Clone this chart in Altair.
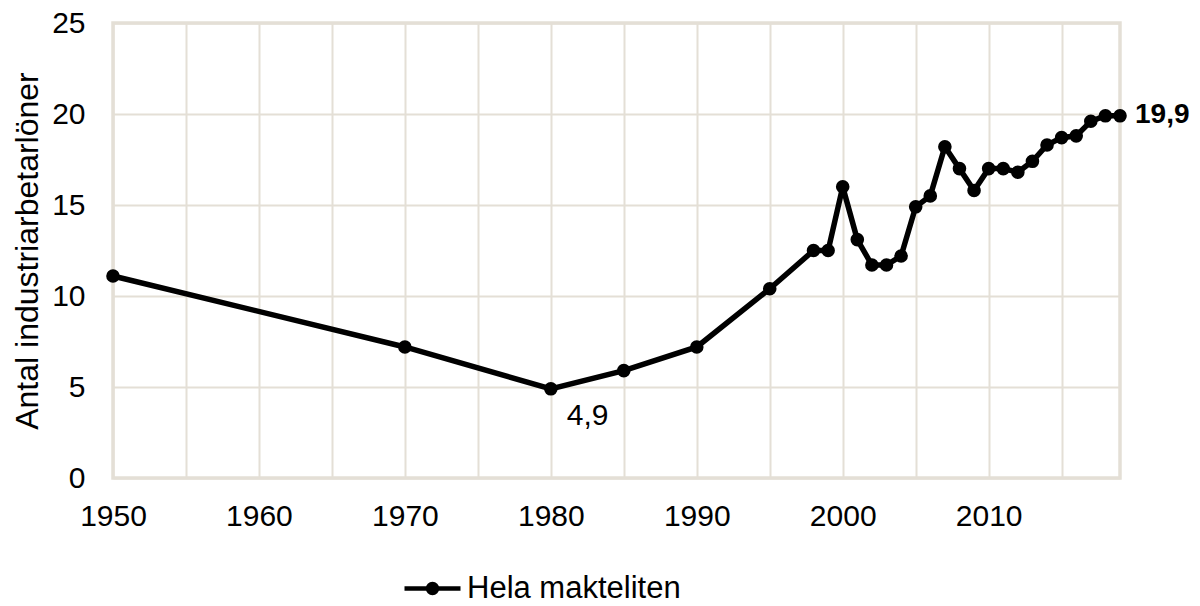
import altair as alt
import pandas as pd

# ---- data ----
years = [1950, 1970, 1980, 1985, 1990, 1995, 1998, 1999, 2000, 2001, 2002, 2003,
         2004, 2005, 2006, 2007, 2008, 2009, 2010, 2011, 2012, 2013, 2014, 2015,
         2016, 2017, 2018, 2019]
values = [11.1, 7.2, 4.9, 5.9, 7.2, 10.4, 12.5, 12.5, 16.0, 13.1, 11.7, 11.7,
          12.2, 14.9, 15.5, 18.2, 17.0, 15.8, 17.0, 17.0, 16.8, 17.4, 18.3, 18.7,
          18.8, 19.6, 19.9, 19.9]
series_name = "Hela makteliten"
y_title = "Antal industriarbetarlöner"
x_grid_values = [1950, 1955, 1960, 1965, 1970, 1975, 1980, 1985, 1990, 1995,
                 2000, 2005, 2010, 2015]
y_tick_values = [0, 5, 10, 15, 20, 25]
label_years_regular = [1980]
label_years_bold = [2019]

FONT = "Liberation Sans"
GRID = "#E4DFD6"

df = pd.DataFrame({"year": years, "value": values, "serie": series_name})
df["label"] = [f"{v:.1f}".replace(".", ",") for v in values]
df_reg = df[df["year"].isin(label_years_regular)]
df_bold = df[df["year"].isin(label_years_bold)]

# legend symbol: line with a filled dot (concentric circles stroked)
def circ(r):
    return f"M{r},0A{r},{r},0,1,1,{-r},0A{r},{r},0,1,1,{r},0"

legend_path = "M-1,0H1" + circ(0.16) + circ(0.09) + circ(0.02)

x_enc = alt.X(
    "year:Q",
    scale=alt.Scale(domain=[1950, 2019], nice=False, zero=False),
    axis=alt.Axis(
        values=x_grid_values,
        format="d",
        labelExpr="datum.value % 10 === 0 ? datum.label : ''",
        title=None,
        labelPadding=23,
        labelBaseline="top",
        labelFlush=False,
    ),
)
y_enc = alt.Y(
    "value:Q",
    scale=alt.Scale(domain=[0, 25], nice=False),
    axis=alt.Axis(
        values=y_tick_values,
        title=y_title,
        titleAngle=270,
        titleX=-76,
        titleY=227.5,
        titleAlign="center",
        titleBaseline="alphabetic",
        titleFontSize=32,
        labelPadding=28,
        labelFlush=False,
    ),
)

base = alt.Chart(df).encode(x=x_enc, y=y_enc)

line = base.mark_line(strokeWidth=5.5).encode(
    color=alt.Color(
        "serie:N",
        scale=alt.Scale(range=["black"]),
        legend=alt.Legend(
            title=None,
            orient="none",
            legendX=289,
            legendY=535,
            symbolType=legend_path,
            symbolSize=3136,
            symbolStrokeWidth=4.5,
            symbolStrokeColor="black",
            symbolFillColor="black",
            labelFontSize=31,
            labelFont=FONT,
            labelColor="black",
            labelOffset=4,
            labelLimit=0,
            padding=0,
        ),
    )
)

points = base.mark_circle(size=185, opacity=1, color="black")

text_reg = alt.Chart(df_reg).mark_text(
    align="left", baseline="middle", dx=16, dy=27, fontSize=30, font=FONT, color="black"
).encode(x="year:Q", y="value:Q", text="label:N")

text_bold = alt.Chart(df_bold).mark_text(
    align="left", baseline="middle", dx=15, dy=-1, fontSize=28, font=FONT,
    fontWeight="bold", color="black"
).encode(x="year:Q", y="value:Q", text="label:N")

chart = (
    alt.layer(line, points, text_reg, text_bold)
    .properties(
        width=1007,
        height=455,
        autosize="none",
        padding={"left": 105, "top": 15, "right": 72, "bottom": 128},
    )
    .configure_view(stroke=GRID, strokeWidth=3.5)
    .configure_axis(
        grid=True,
        gridColor=GRID,
        gridWidth=2,
        domain=False,
        ticks=False,
        tickSize=0,
        labelFont=FONT,
        labelFontSize=30,
        labelColor="black",
        titleFont=FONT,
        titleFontWeight="normal",
        titleColor="black",
    )
)

chart.save("out.html", embed_options={"renderer": "svg", "actions": False})
